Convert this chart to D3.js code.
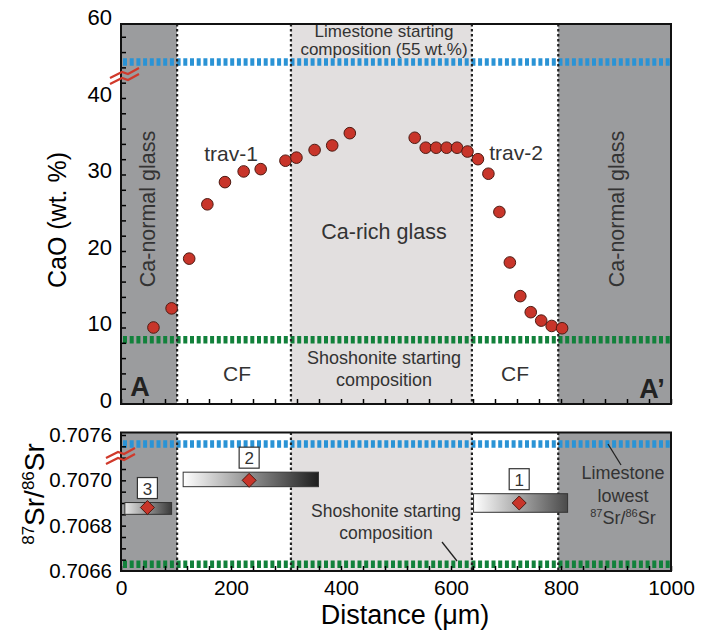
<!DOCTYPE html>
<html>
<head>
<meta charset="utf-8">
<script src="https://cdn.jsdelivr.net/npm/d3@7"></script>
<style>
  body { margin: 0; background: #fff; }
  svg { font-family: "Liberation Sans", Arial, sans-serif; }
  .note { fill: #333; }
</style>
</head>
<body>
<svg width="717" height="636"></svg>
<script>
// CaO profile (display units on the broken axis)
var distance = [59, 92, 124, 157, 189, 223, 254, 299, 319, 352, 384, 416, 534, 554, 573, 592, 611, 630, 649, 668, 688, 707, 726, 745, 764, 783, 802];
var cao = [10.0, 12.5, 19.0, 26.1, 29.0, 30.4, 30.7, 31.8, 32.2, 33.2, 33.8, 35.4, 34.8, 33.5, 33.5, 33.5, 33.5, 33.0, 32.0, 30.1, 25.1, 18.5, 14.1, 12.0, 10.9, 10.2, 9.9];

// zones along the traverse
var zoneEdges = [0, 102, 309, 638, 795, 1000];
var zoneKind = ['normal', 'cf', 'rich', 'cf', 'normal'];

// reference lines
var caoLimestone = 44.7;   // 55 wt.% drawn above the break
var caoShoshonite = 8.4;
var srLimestone = 0.70716;
var srShoshonite = 0.70663;

// Sr isotope bars
var srLabel = ['3', '2', '1'];
var srCentre = [48, 233, 724];
var srFrom = [7, 113, 641];
var srTo = [92, 359, 812];
var srRatio = [0.70688, 0.70700, 0.70690];
var srHigh = [0.706902, 0.707036, 0.706941];
var srLow = [0.706850, 0.706972, 0.706859];

// tick labels
var caoTicks = [0, 10, 20, 30, 40, 50];
var caoTickText = ['0', '10', '20', '30', '40', '60'];
var srTicks = [0.7066, 0.7068, 0.7070, 0.7072];
var srTickText = ['0.7066', '0.7068', '0.7070', '0.7076'];
var distTicks = [0, 200, 400, 600, 800, 1000];

var svg = d3.select('svg');

var x = d3.scaleLinear().domain([0, 1000]).range([121, 671]);
var yTop = d3.scaleLinear().domain([0, 49.67]).range([404, 24]);
var yBot = d3.scaleLinear().domain([0.7066, 0.707211]).range([571, 432.5]);

var zoneColor = { normal: '#9b9c9e', cf: '#ffffff', rich: '#e2dfdf' };

// gradients for the Sr bars
var defs = svg.append('defs');
var gradEnd = ['#3a3a3a', '#1e1e1e', '#4a4a4a'];
srLabel.forEach(function(l, i) {
    var g = defs.append('linearGradient').attr('id', 'grad' + i);
    g.append('stop').attr('offset', '0%').attr('stop-color', i == 0 ? '#e6e6e6' : '#ffffff');
    g.append('stop').attr('offset', '100%').attr('stop-color', gradEnd[i]);
});

function drawPanel(y, top, bottom) {
    var p = svg.append('g');
    zoneKind.forEach(function(k, i) {
        p.append('rect')
            .attr('x', x(zoneEdges[i]))
            .attr('y', top)
            .attr('width', x(zoneEdges[i + 1]) - x(zoneEdges[i]))
            .attr('height', bottom - top)
            .style('fill', zoneColor[k]);
    });
    return p;
}

function drawBoundaries(top, bottom) {
    [1, 2, 3, 4].forEach(function(i) {
        svg.append('line')
            .attr('x1', x(zoneEdges[i])).attr('x2', x(zoneEdges[i]))
            .attr('y1', top).attr('y2', bottom)
            .style('stroke', '#222').style('stroke-width', 2.2)
            .style('stroke-dasharray', '2.6,2.4');
    });
}

function refLine(yPos, color) {
    svg.append('line')
        .attr('x1', x(0) + 2).attr('x2', x(1000) - 1)
        .attr('y1', yPos).attr('y2', yPos)
        .style('stroke', color).style('stroke-width', 7.5)
        .style('stroke-dasharray', '4,2.7');
}

function frame(top, bottom) {
    svg.append('rect')
        .attr('x', x(0)).attr('y', top)
        .attr('width', x(1000) - x(0)).attr('height', bottom - top)
        .style('fill', 'none').style('stroke', '#111').style('stroke-width', 2);
}

function breakMark(cx, cy) {
    [-3, 3].forEach(function(d) {
        svg.append('path')
            .attr('d', 'M' + (cx - 15) + ',' + (cy + 5 + d) + ' L' + (cx - 3) + ',' + (cy + d - 1) +
                       ' L' + (cx + 3) + ',' + (cy + d + 1) + ' L' + (cx + 14) + ',' + (cy - 5 + d))
            .style('fill', 'none').style('stroke', '#d0392b').style('stroke-width', 2.2);
    });
}

// ---------- top panel ----------
drawPanel(yTop, 24, 404);
refLine(yTop(caoLimestone), '#2a93d5');
refLine(yTop(caoShoshonite), '#12813b');
drawBoundaries(24, 404);

svg.append('g')
    .attr('transform', 'translate(0,404)')
    .call(d3.axisBottom(x).tickValues(d3.range(0, 1001, 40)).tickSize(-5).tickFormat(''))
    .call(function(g) { g.select('.domain').remove(); g.selectAll('line').style('stroke-width', 1.5); });

svg.append('g')
    .attr('transform', 'translate(121,0)')
    .call(d3.axisLeft(yTop).tickValues(d3.range(2, 50, 2)).tickSize(-5).tickFormat(''))
    .call(function(g) { g.select('.domain').remove(); g.selectAll('line').style('stroke-width', 1.5); });

svg.append('g')
    .attr('transform', 'translate(121,-4)')
    .call(d3.axisLeft(yTop).tickValues(caoTicks).tickSize(0).tickPadding(9)
          .tickFormat(function(d, i) { return caoTickText[i]; }))
    .call(function(g) {
        g.select('.domain').remove();
        g.selectAll('text').style('font-size', '22px').style('fill', '#000')
         .style('font-family', '"Liberation Sans", Arial, sans-serif');
    });

svg.selectAll('circle.cao')
    .data(distance)
    .enter().append('circle')
    .attr('class', 'cao')
    .attr('cx', function(d) { return x(d); })
    .attr('cy', function(d, i) { return yTop(cao[i]); })
    .attr('r', 5.8)
    .style('fill', '#c8352a')
    .style('stroke', '#4d1a12')
    .style('stroke-width', 1);

frame(24, 404);
breakMark(125, 76);

function note(t, px, py, size, opts) {
    opts = opts || {};
    var s = svg.append('text')
        .attr('class', 'note')
        .attr('x', px).attr('y', py)
        .attr('text-anchor', 'middle')
        .style('font-size', size + 'px')
        .text(t);
    if (opts.rotate) s.attr('transform', 'rotate(-90,' + px + ',' + py + ')');
    if (opts.bold) s.style('font-weight', 'bold').style('fill', '#222');
    return s;
}

note('Limestone starting', 384, 37, 17);
note('composition (55 wt.%)', 384, 55, 17);
note('Shoshonite starting', 384, 364, 18);
note('composition', 384, 386, 18);
note('Ca-rich glass', 384, 239, 21.5);
note('trav-1', 231, 161, 21);
note('trav-2', 516, 160, 21);
note('CF', 237, 381, 21);
note('CF', 515, 381, 21);
note('Ca-normal glass', 155, 209, 21.5, { rotate: true });
note('Ca-normal glass', 624, 209, 21.5, { rotate: true });
note('A', 140, 396, 27, { bold: true });
note('A\u2019', 652, 398, 27, { bold: true });

svg.append('text')
    .attr('transform', 'translate(66,220) rotate(-90)')
    .attr('text-anchor', 'middle')
    .style('font-size', '25px')
    .text('CaO (wt. %)');

// ---------- bottom panel ----------
drawPanel(yBot, 432.5, 571);
refLine(yBot(srLimestone), '#2a93d5');
refLine(yBot(srShoshonite), '#12813b');
drawBoundaries(432.5, 571);

svg.append('g')
    .attr('transform', 'translate(0,571)')
    .call(d3.axisBottom(x).tickValues(d3.range(0, 1001, 40)).tickSize(-5).tickFormat(''))
    .call(function(g) { g.select('.domain').remove(); g.selectAll('line').style('stroke-width', 1.5); });

svg.append('g')
    .attr('transform', 'translate(121,0)')
    .call(d3.axisLeft(yBot).tickValues(d3.range(0.70665, 0.70721, 0.00005)).tickSize(-5).tickFormat(''))
    .call(function(g) { g.select('.domain').remove(); g.selectAll('line').style('stroke-width', 1.5); });

svg.append('g')
    .attr('transform', 'translate(121,0)')
    .call(d3.axisLeft(yBot).tickValues(srTicks).tickSize(0).tickPadding(9)
          .tickFormat(function(d, i) { return srTickText[i]; }))
    .call(function(g) {
        g.select('.domain').remove();
        g.selectAll('text').style('font-size', '20.5px').style('fill', '#000')
         .style('font-family', '"Liberation Sans", Arial, sans-serif');
    });

svg.append('g')
    .attr('transform', 'translate(0,571)')
    .call(d3.axisBottom(x).tickValues(distTicks).tickSize(0).tickPadding(9).tickFormat(d3.format('d')))
    .call(function(g) {
        g.select('.domain').remove();
        g.selectAll('text').style('font-size', '21px').style('fill', '#000')
         .style('font-family', '"Liberation Sans", Arial, sans-serif');
    });

// Sr bars with sample numbers
srLabel.forEach(function(l, i) {
    svg.append('rect')
        .attr('x', x(srFrom[i]))
        .attr('y', yBot(srHigh[i]))
        .attr('width', x(srTo[i]) - x(srFrom[i]))
        .attr('height', yBot(srLow[i]) - yBot(srHigh[i]))
        .style('fill', 'url(#grad' + i + ')')
        .style('stroke', '#333').style('stroke-width', 1);

    var cx = x(srCentre[i]), cy = yBot(srRatio[i]);
    svg.append('path')
        .attr('d', 'M' + cx + ',' + (cy - 7) + ' L' + (cx + 7) + ',' + cy + ' L' + cx + ',' + (cy + 7) + ' L' + (cx - 7) + ',' + cy + 'Z')
        .style('fill', '#c8352a').style('stroke', '#4d1a12').style('stroke-width', 1);

    var by = yBot(srHigh[i]) - 25;
    svg.append('rect')
        .attr('x', cx - 10).attr('y', by)
        .attr('width', 20).attr('height', 21)
        .style('fill', '#fff').style('stroke', '#333').style('stroke-width', 1.2);
    svg.append('text')
        .attr('x', cx).attr('y', by + 17)
        .attr('text-anchor', 'middle')
        .style('font-size', '17px').style('fill', '#333')
        .text(l);
});

note('Shoshonite starting', 386, 517, 17.5);
note('composition', 386, 539, 17.5);
svg.append('line')
    .attr('x1', 442).attr('y1', 542).attr('x2', 457).attr('y2', 561)
    .style('stroke', '#222').style('stroke-width', 1.3);

note('Limestone', 623, 479, 18);
note('lowest', 623, 502, 18);
var ll = note('', 623, 524, 18);
ll.append('tspan').attr('dy', -7).style('font-size', '11px').text('87');
ll.append('tspan').attr('dy', 7).text('Sr/');
ll.append('tspan').attr('dy', -7).style('font-size', '11px').text('86');
ll.append('tspan').attr('dy', 7).text('Sr');
svg.append('line')
    .attr('x1', 608).attr('y1', 444).attr('x2', 621).attr('y2', 465)
    .style('stroke', '#222').style('stroke-width', 1.3);

frame(432.5, 571);
breakMark(121, 456);

var yl = svg.append('text')
    .attr('transform', 'translate(44,494) rotate(-90)')
    .attr('text-anchor', 'middle')
    .style('font-size', '28px');
yl.append('tspan').attr('dy', -10).style('font-size', '17px').text('87');
yl.append('tspan').attr('dy', 10).text('Sr/');
yl.append('tspan').attr('dy', -10).style('font-size', '17px').text('86');
yl.append('tspan').attr('dy', 10).text('Sr');

svg.append('text')
    .attr('x', 405).attr('y', 624)
    .attr('text-anchor', 'middle')
    .style('font-size', '27px')
    .text('Distance (\u03bcm)');
</script>
</body>
</html>
